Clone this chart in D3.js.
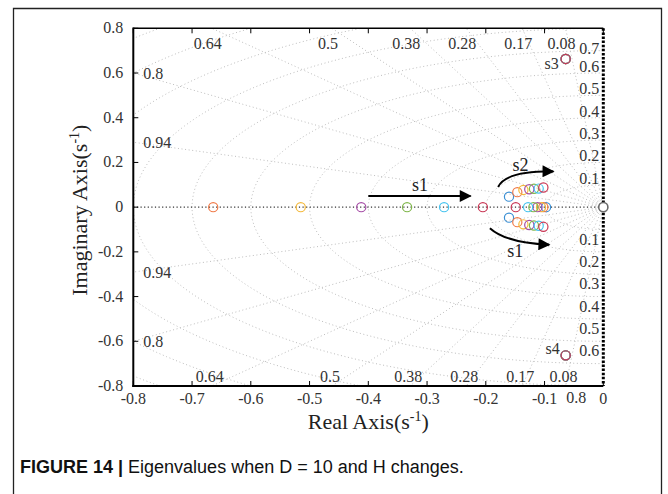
<!DOCTYPE html>
<html>
<head>
<meta charset="utf-8">
<script src="https://cdn.jsdelivr.net/npm/d3@7"></script>
<style>
  body { margin: 0; background: #fff; }
  svg { display: block; }
</style>
</head>
<body>
<div id="grafica"></div>
<script>
// colores de cada caso de H (orden de dibujo)
var colores = ["#3a8fd4", "#f07a48", "#f4b93a", "#a54ca6", "#7fb64a", "#45c3ef", "#c93654"];

// valores propios
var realLejano = [null, -0.664, -0.515, -0.412, -0.334, -0.271, -0.205];
var realCercano = [-0.0975, -0.102, -0.106, -0.112, -0.119, -0.128, -0.149];
var parRe = [-0.1605, -0.1464, -0.136, -0.126, -0.118, -0.110, -0.102];
var parIm = [0.047, 0.067, 0.077, 0.080, 0.082, 0.083, 0.088];
var s34Re = [-0.064, -0.064, -0.064, -0.064, -0.064, -0.064, -0.064];
var s34Im = [0.663, 0.663, 0.663, 0.663, 0.663, 0.663, 0.663];

// rejilla del plano s
var amortiguamientos = [0.08, 0.17, 0.28, 0.38, 0.5, 0.64, 0.8, 0.94];
var frecuencias = [0.1, 0.2, 0.3, 0.4, 0.5, 0.6, 0.7, 0.8, 0.9, 1.0, 1.1];
var etiqAmortArriba = [0.08, 0.17, 0.28, 0.38, 0.5, 0.64];
var etiqAmortIzq = [0.8, 0.94];
var etiqFrecArriba = ["0.1", "0.2", "0.3", "0.4", "0.5", "0.6", "0.7"];
var etiqFrecAbajo = ["0.1", "0.2", "0.3", "0.4", "0.5", "0.6"];
var xTicks = [-0.8, -0.7, -0.6, -0.5, -0.4, -0.3, -0.2, -0.1, 0];
var yTicks = [-0.8, -0.6, -0.4, -0.2, 0, 0.2, 0.4, 0.6, 0.8];

var ancho = 668, alto = 494;
var izq = 133.3, der = 603.3, arriba = 28.3, abajo = 386;
var serif = "'Liberation Serif', 'Times New Roman', serif";

// formato con guion normal, como en matlab
var fmt = function (d) { return d === 0 ? "0" : d.toFixed(1); };

var svg = d3.select("#grafica").append("svg")
    .attr("width", ancho)
    .attr("height", alto);

// marco de la figura
svg.append("path")
    .attr("d", "M13.5," + (alto + 2) + "V8.5H661.5V" + (alto + 2))
    .attr("fill", "none")
    .attr("stroke", "#222")
    .attr("stroke-width", 1.3);

var x = d3.scaleLinear().domain([-0.8, 0]).range([izq, der]);
var y = d3.scaleLinear().domain([-0.8, 0.8]).range([abajo, arriba]);

var defs = svg.append("defs");
defs.append("clipPath").attr("id", "recorte")
    .append("rect")
    .attr("x", izq).attr("y", arriba)
    .attr("width", der - izq).attr("height", abajo - arriba);

defs.append("marker")
    .attr("id", "flecha")
    .attr("viewBox", "0 0 10 10")
    .attr("refX", 9).attr("refY", 5)
    .attr("markerUnits", "userSpaceOnUse")
    .attr("markerWidth", 16).attr("markerHeight", 12)
    .attr("orient", "auto")
    .append("path")
    .attr("d", "M0,0L10,5L0,10z")
    .attr("fill", "#000");

var plano = svg.append("g").attr("clip-path", "url(#recorte)");

var linea = d3.line()
    .x(function (d) { return x(d[0]); })
    .y(function (d) { return y(d[1]); });

// circulos de frecuencia natural (semiplano izquierdo)
var angulos = d3.range(90, 270.5, 1.5);
plano.selectAll("path.frec")
    .data(frecuencias)
    .enter().append("path")
    .attr("class", "frec")
    .attr("d", function (wn) {
        return linea(angulos.map(function (a) {
            var r = a * Math.PI / 180;
            return [wn * Math.cos(r), wn * Math.sin(r)];
        }));
    })
    .attr("fill", "none")
    .attr("stroke", "#bdbdbd")
    .attr("stroke-width", 1)
    .attr("stroke-dasharray", "1,2.6");

// rectas de amortiguamiento constante
plano.selectAll("path.amort")
    .data(amortiguamientos.concat(amortiguamientos.map(function (z) { return -z; })))
    .enter().append("path")
    .attr("class", "amort")
    .attr("d", function (z) {
        var zz = Math.abs(z), s = z < 0 ? -1 : 1;
        return linea([[0, 0], [-zz * 2, s * Math.sqrt(1 - zz * zz) * 2]]);
    })
    .attr("fill", "none")
    .attr("stroke", "#bdbdbd")
    .attr("stroke-width", 1)
    .attr("stroke-dasharray", "1,2.6");

// eje real punteado
plano.append("path")
    .attr("d", linea([[-0.8, 0], [0, 0]]))
    .attr("stroke", "#333")
    .attr("stroke-width", 1.1)
    .attr("stroke-dasharray", "1.2,2.4");

// bordes y marcas
var bordes = svg.append("g");
bordes.append("line").attr("x1", izq).attr("x2", der).attr("y1", arriba).attr("y2", arriba)
    .attr("stroke", "#000").attr("stroke-width", 1.6);
bordes.append("line").attr("x1", izq).attr("x2", izq).attr("y1", arriba - 0.8).attr("y2", abajo + 1)
    .attr("stroke", "#000").attr("stroke-width", 2);
bordes.append("line").attr("x1", izq - 1).attr("x2", der).attr("y1", abajo).attr("y2", abajo)
    .attr("stroke", "#000").attr("stroke-width", 2);
bordes.append("line").attr("x1", der).attr("x2", der).attr("y1", arriba).attr("y2", abajo)
    .attr("stroke", "#000").attr("stroke-width", 3)
    .attr("stroke-dasharray", "2.5,1.6");

bordes.selectAll("line.tx")
    .data(xTicks)
    .enter().append("line")
    .attr("class", "tx")
    .attr("x1", function (d) { return x(d); }).attr("x2", function (d) { return x(d); })
    .attr("y1", abajo).attr("y2", abajo - 5)
    .attr("stroke", "#000");
bordes.selectAll("line.txa")
    .data(xTicks)
    .enter().append("line")
    .attr("class", "txa")
    .attr("x1", function (d) { return x(d); }).attr("x2", function (d) { return x(d); })
    .attr("y1", arriba).attr("y2", arriba + 5)
    .attr("stroke", "#000");
bordes.selectAll("line.ty")
    .data(yTicks)
    .enter().append("line")
    .attr("class", "ty")
    .attr("x1", izq).attr("x2", izq + 5)
    .attr("y1", function (d) { return y(d); }).attr("y2", function (d) { return y(d); })
    .attr("stroke", "#000");

// etiquetas de los ejes
svg.selectAll("text.xt")
    .data(xTicks)
    .enter().append("text")
    .attr("class", "xt")
    .attr("x", function (d) { return x(d); })
    .attr("y", abajo + 18)
    .attr("text-anchor", "middle")
    .style("font-family", serif).style("font-size", "16px").style("fill", "#333")
    .text(fmt);

svg.selectAll("text.yt")
    .data(yTicks)
    .enter().append("text")
    .attr("class", "yt")
    .attr("x", izq - 10)
    .attr("y", function (d) { return y(d) + 5; })
    .attr("text-anchor", "end")
    .style("font-family", serif).style("font-size", "16px").style("fill", "#333")
    .text(fmt);

// etiquetas de la rejilla
var estiloRejilla = function (sel) {
    sel.style("font-family", serif).style("font-size", "16px").style("fill", "#333");
};
svg.selectAll("text.za")
    .data(etiqAmortArriba)
    .enter().append("text")
    .attr("class", "za")
    .attr("x", function (z) { return x(-0.8 * z / Math.sqrt(1 - z * z)) - 4; })
    .attr("y", arriba + 21)
    .attr("text-anchor", "middle")
    .call(estiloRejilla)
    .text(function (z) { return z; });
svg.selectAll("text.zb")
    .data(etiqAmortArriba)
    .enter().append("text")
    .attr("class", "zb")
    .attr("x", function (z) { return x(-0.8 * z / Math.sqrt(1 - z * z)) - 2; })
    .attr("y", abajo - 4)
    .attr("text-anchor", "middle")
    .call(estiloRejilla)
    .text(function (z) { return z; });
[1, -1].forEach(function (s) {
    svg.selectAll("text.zi" + (s > 0 ? "a" : "b"))
        .data(etiqAmortIzq)
        .enter().append("text")
        .attr("x", izq + 10)
        .attr("y", function (z) { return y(s * 0.8 * Math.sqrt(1 - z * z) / z) + 6; })
        .call(estiloRejilla)
        .text(function (z) { return z; });
});
svg.selectAll("text.wa")
    .data(etiqFrecArriba)
    .enter().append("text")
    .attr("x", der - 4)
    .attr("y", function (w) { return Math.max(y(+w) - 1, arriba + 26); })
    .attr("text-anchor", "end")
    .call(estiloRejilla)
    .text(function (w) { return w; });
svg.selectAll("text.wb")
    .data(etiqFrecAbajo)
    .enter().append("text")
    .attr("x", der - 4)
    .attr("y", function (w) { return y(-w) + 15; })
    .attr("text-anchor", "end")
    .call(estiloRejilla)
    .text(function (w) { return w; });
svg.append("text")
    .attr("x", der - 17)
    .attr("y", y(-0.8) + 17)
    .attr("text-anchor", "end")
    .call(estiloRejilla)
    .text("0.8");

// puntos: valores propios de cada caso
var puntos = [];
colores.forEach(function (c, i) {
    if (realLejano[i] !== null) puntos.push({ re: realLejano[i], im: 0, c: c });
    puntos.push({ re: realCercano[i], im: 0, c: c });
    puntos.push({ re: parRe[i], im: parIm[i], c: c });
    puntos.push({ re: parRe[i], im: -parIm[i], c: c });
    puntos.push({ re: s34Re[i], im: s34Im[i], c: c });
    puntos.push({ re: s34Re[i], im: -s34Im[i], c: c });
});

svg.selectAll("circle.vp")
    .data(puntos)
    .enter().append("circle")
    .attr("class", "vp")
    .attr("cx", function (d) { return x(d.re); })
    .attr("cy", function (d) { return y(d.im); })
    .attr("r", 4.6)
    .attr("fill", "none")
    .attr("stroke", function (d) { return d.c; })
    .attr("stroke-width", 1.2);

// polo en el origen
svg.append("circle")
    .attr("cx", x(0)).attr("cy", y(0))
    .attr("r", 4.6)
    .attr("fill", "#fff")
    .attr("stroke", "#6a6a6a")
    .attr("stroke-width", 1.6);

// flechas de tendencia
var anotaciones = svg.append("g");
anotaciones.append("path")
    .attr("d", linea([[-0.4, 0.05], [-0.226, 0.05]]))
    .attr("stroke", "#000").attr("stroke-width", 2).attr("fill", "none")
    .attr("marker-end", "url(#flecha)");

var curva = function (p0, p1, p2) {
    var p = d3.path();
    p.moveTo(x(p0[0]), y(p0[1]));
    p.quadraticCurveTo(x(p1[0]), y(p1[1]), x(p2[0]), y(p2[1]));
    return p.toString();
};
anotaciones.append("path")
    .attr("d", curva([-0.179, 0.09], [-0.166, 0.162], [-0.085, 0.160]))
    .attr("stroke", "#000").attr("stroke-width", 2).attr("fill", "none")
    .attr("marker-end", "url(#flecha)");
anotaciones.append("path")
    .attr("d", curva([-0.193, -0.094], [-0.165, -0.160], [-0.092, -0.168]))
    .attr("stroke", "#000").attr("stroke-width", 2).attr("fill", "none")
    .attr("marker-end", "url(#flecha)");

var textoAnot = [
    { t: "s1", re: -0.312, im: 0.0996 },
    { t: "s2", re: -0.141, im: 0.19 },
    { t: "s1", re: -0.150, im: -0.193 }
];
anotaciones.selectAll("text")
    .data(textoAnot)
    .enter().append("text")
    .attr("x", function (d) { return x(d.re); })
    .attr("y", function (d) { return y(d.im); })
    .attr("dy", "0.35em")
    .attr("text-anchor", "middle")
    .style("font-family", serif).style("font-size", "18px").style("fill", "#222")
    .text(function (d) { return d.t; });

svg.append("text")
    .attr("x", x(s34Re[0]) - 7)
    .attr("y", y(s34Im[0]) + 10)
    .attr("text-anchor", "end")
    .style("font-family", serif).style("font-size", "16px").style("fill", "#333")
    .text("s3");
svg.append("text")
    .attr("x", x(s34Re[0]) - 6)
    .attr("y", y(-s34Im[0]) - 1)
    .attr("text-anchor", "end")
    .style("font-family", serif).style("font-size", "16px").style("fill", "#333")
    .text("s4");

// titulos de ejes
var tituloX = svg.append("text")
    .attr("x", (izq + der) / 2)
    .attr("y", abajo + 43)
    .attr("text-anchor", "middle")
    .style("font-family", serif).style("font-size", "22px").style("fill", "#222");
tituloX.append("tspan").text("Real Axis(s");
tituloX.append("tspan").attr("dy", -8).style("font-size", "14px").text("-1");
tituloX.append("tspan").attr("dy", 8).text(")");

var tituloY = svg.append("text")
    .attr("transform", "translate(87," + ((arriba + abajo) / 2 + 3) + ") rotate(-90)")
    .attr("text-anchor", "middle")
    .style("font-family", serif).style("font-size", "22px").style("fill", "#222");
tituloY.append("tspan").text("Imaginary Axis(s");
tituloY.append("tspan").attr("dy", -8).style("font-size", "14px").text("-1");
tituloY.append("tspan").attr("dy", 8).text(")");

// pie de figura
var pie = svg.append("text")
    .attr("x", 20)
    .attr("y", 473)
    .style("font-family", "'Liberation Sans', Arial, sans-serif")
    .style("font-size", "18px")
    .style("fill", "#111");
pie.append("tspan").style("font-weight", "bold").text("FIGURE 14 | ");
pie.append("tspan").text("Eigenvalues when D = 10 and H changes.");
</script>
</body>
</html>
